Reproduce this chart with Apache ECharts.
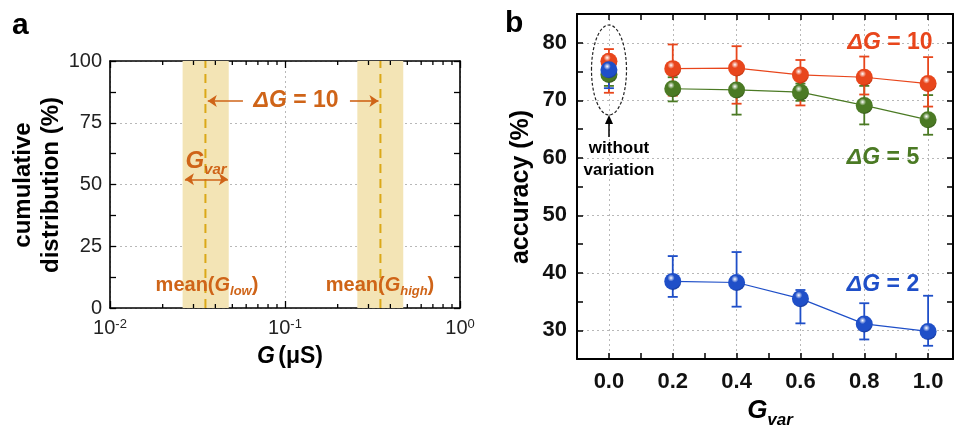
<!DOCTYPE html>
<html>
<head>
<meta charset="utf-8">
<script src="https://cdn.jsdelivr.net/npm/echarts@6/dist/echarts.min.js"></script>
<style>html,body{margin:0;padding:0;background:#fff}#main{width:956px;height:429px}</style>
</head>
<body>
<div id="main"></div>
<script>
// ---- panel a : conductance states ----
var bandLow = [0.026, 0.0477];
var bandHigh = [0.259, 0.474];
var meanLow = 0.0351;
var meanHigh = 0.351;
var logMinor = [0.02, 0.03, 0.04, 0.05, 0.06, 0.07, 0.08, 0.09, 0.2, 0.3, 0.4, 0.5, 0.6, 0.7, 0.8, 0.9];

// ---- panel b : accuracy vs Gvar ----
var gvar = [0.2, 0.4, 0.6, 0.8, 1.0];
var acc10 = [75.5, 75.6, 74.4, 74.0, 72.9];
var lo10 = [70.8, 69.4, 69.1, 71.0, 68.9];
var hi10 = [79.7, 79.4, 77.0, 77.6, 77.5];
var acc5 = [72.0, 71.8, 71.4, 69.1, 66.6];
var lo5 = [69.8, 67.5, 69.9, 65.8, 64.0];
var hi5 = [74.0, 75.5, 72.9, 72.5, 70.9];
var acc2 = [38.5, 38.3, 35.5, 31.1, 29.8];
var lo2 = [35.8, 34.1, 31.2, 28.4, 27.3];
var hi2 = [42.9, 43.6, 37.0, 34.7, 36.0];
// without variation (Gvar = 0), order: dG=10, dG=5, dG=2
var base0 = [76.8, 74.5, 75.3];
var base0Lo = [71.3, 72.5, 72.1];
var base0Hi = [78.9, 76.5, 76.3];

var FONT = '"Liberation Sans", Arial, sans-serif';
var cOrange = '#e8461c', cGreen = '#4b7a24', cBlue = '#1f4fc8';
var cNote = '#cf6418';

var chart = echarts.init(document.getElementById('main'), null, {renderer: 'canvas'});

function sphere(base, dark) {
    return {
        type: 'radial', x: 0.4, y: 0.3, r: 0.75,
        colorStops: [
            {offset: 0, color: '#ffffff'},
            {offset: 0.28, color: base},
            {offset: 0.8, color: base},
            {offset: 1, color: dark}
        ]
    };
}

function errItem(color) {
    return function (params, api) {
        var x = api.value(0);
        var a = api.coord([x, api.value(1)]);
        var b = api.coord([x, api.value(2)]);
        var w = 5;
        var st = {stroke: color, lineWidth: 1.8};
        return {
            type: 'group',
            children: [
                {type: 'line', shape: {x1: a[0], y1: a[1], x2: b[0], y2: b[1]}, style: st},
                {type: 'line', shape: {x1: a[0] - w, y1: a[1], x2: a[0] + w, y2: a[1]}, style: st},
                {type: 'line', shape: {x1: b[0] - w, y1: b[1], x2: b[0] + w, y2: b[1]}, style: st}
            ]
        };
    };
}

function errData(xs, lo, hi) {
    return xs.map(function (x, i) { return [x, lo[i], hi[i]]; });
}
function ptData(xs, ys) {
    return xs.map(function (x, i) { return [x, ys[i]]; });
}

var axLineA = {onZero: false, lineStyle: {color: '#000', width: 1.6}};
var axLineB = {onZero: false, lineStyle: {color: '#000', width: 2}};
var dotted = {color: '#b8b8b8', type: [2, 3], width: 1};
var dottedCycle = {color: ['rgba(0,0,0,0)', '#b8b8b8'], type: [2, 3], width: 1};

var option = {
    animation: false,
    textStyle: {fontFamily: FONT},
    grid: [
        {left: 110, top: 61, width: 350, height: 247},
        {left: 577, top: 14, width: 378, height: 345}
    ],
    xAxis: [
        {
            type: 'log', logBase: 10, gridIndex: 0, min: 0.01, max: 1, position: 'bottom',
            axisLine: axLineA,
            axisTick: {inside: true, length: 7, lineStyle: {color: '#000', width: 1.3}},
            axisLabel: {
                margin: 10, color: '#222',
                formatter: function (v) {
                    var e = Math.round(Math.log(v) / Math.LN10);
                    return '{b|10}{s|' + e + '}';
                },
                rich: {
                    b: {fontSize: 20, fontFamily: FONT, color: '#222'},
                    s: {fontSize: 13, fontFamily: FONT, color: '#222', verticalAlign: 'top', padding: [0, 0, 8, 0]}
                }
            },
            splitLine: {show: true, lineStyle: dotted}
        },
        {
            type: 'log', logBase: 10, gridIndex: 0, min: 0.01, max: 1, position: 'top',
            axisLine: axLineA,
            axisTick: {inside: true, length: 7, lineStyle: {color: '#000', width: 1.3}},
            axisLabel: {show: false},
            splitLine: {show: false}
        },
        {
            type: 'value', gridIndex: 1, min: -0.1, max: 1.078, interval: 0.1, position: 'bottom',
            axisLine: axLineB,
            axisTick: {inside: true, length: 6, lineStyle: {color: '#000', width: 1.5}},
            axisLabel: {
                margin: 12, fontSize: 22, fontWeight: 'bold', color: '#111',
                formatter: function (v) {
                    var k = Math.round(v * 10);
                    return (k >= 0 && k <= 10 && k % 2 === 0) ? (k / 10).toFixed(1) : '';
                }
            },
            splitLine: {show: true, lineStyle: dottedCycle}
        },
        {
            type: 'value', gridIndex: 1, min: -0.1, max: 1.078, interval: 0.1, position: 'top',
            axisLine: axLineB,
            axisTick: {inside: true, length: 6, lineStyle: {color: '#000', width: 1.5}},
            axisLabel: {show: false},
            splitLine: {show: false}
        }
    ],
    yAxis: [
        {
            type: 'value', gridIndex: 0, min: 0, max: 100, interval: 25, position: 'left',
            axisLine: axLineA,
            axisTick: {inside: true, length: 6, lineStyle: {color: '#000', width: 1.3}},
            minorTick: {show: true, splitNumber: 2, length: 6, lineStyle: {color: '#000', width: 1.3}},
            axisLabel: {margin: 8, fontSize: 20, color: '#222'},
            splitLine: {show: true, lineStyle: dotted}
        },
        {
            type: 'value', gridIndex: 0, min: 0, max: 100, interval: 25, position: 'right',
            axisLine: axLineA,
            axisTick: {inside: true, length: 6, lineStyle: {color: '#000', width: 1.3}},
            minorTick: {show: true, splitNumber: 2, length: 6, lineStyle: {color: '#000', width: 1.3}},
            axisLabel: {show: false},
            splitLine: {show: false}
        },
        {
            type: 'value', gridIndex: 1, min: 25, max: 85, interval: 5, position: 'left',
            axisLine: axLineB,
            axisTick: {inside: true, length: 6, lineStyle: {color: '#000', width: 1.5}},
            axisLabel: {
                margin: 10, fontSize: 22, fontWeight: 'bold', color: '#111',
                formatter: function (v) { return v % 10 === 0 ? String(v) : ''; }
            },
            splitLine: {show: true, lineStyle: dottedCycle}
        },
        {
            type: 'value', gridIndex: 1, min: 25, max: 85, interval: 5, position: 'right',
            axisLine: axLineB,
            axisTick: {inside: true, length: 6, lineStyle: {color: '#000', width: 1.5}},
            axisLabel: {show: false},
            splitLine: {show: false}
        }
    ],
    series: [
        {
            type: 'line', xAxisIndex: 0, yAxisIndex: 0, data: [], silent: true,
            markArea: {
                silent: true,
                itemStyle: {color: '#f3e4b5'},
                data: [
                    [{xAxis: bandLow[0]}, {xAxis: bandLow[1]}],
                    [{xAxis: bandHigh[0]}, {xAxis: bandHigh[1]}]
                ]
            }
        },
        // mean conductance dashed lines
        {type: 'line', xAxisIndex: 0, yAxisIndex: 0, silent: true, symbol: 'none', z: 3,
            data: [[meanLow, 0], [meanLow, 100]],
            lineStyle: {color: '#dba818', width: 2, type: [9, 6]}},
        {type: 'line', xAxisIndex: 0, yAxisIndex: 0, silent: true, symbol: 'none', z: 3,
            data: [[meanHigh, 0], [meanHigh, 100]],
            lineStyle: {color: '#dba818', width: 2, type: [9, 6]}},
        {
            type: 'line', xAxisIndex: 0, yAxisIndex: 0, data: [], silent: true, z: 4,
            markLine: {
                silent: true, symbol: ['arrow', 'arrow'], symbolSize: [9, 9], label: {show: false},
                lineStyle: {color: cNote, width: 1.6, type: 'solid'},
                data: [
                    [{coord: [0.0575, 83.8], symbol: 'none'}, {coord: [0.0362, 83.8]}],
                    [{coord: [0.235, 83.8], symbol: 'none'}, {coord: [0.342, 83.8]}],
                    [{coord: [0.0268, 52.1]}, {coord: [0.0472, 52.1]}]
                ]
            }
        },
        // log minor ticks, bottom and top
        {type: 'scatter', xAxisIndex: 0, yAxisIndex: 0, silent: true, clip: false, z: 5,
            data: logMinor.map(function (v) { return [v, 0]; }),
            symbol: 'rect', symbolSize: [1.3, 4], symbolOffset: [0, -2], itemStyle: {color: '#000', opacity: 1}},
        {type: 'scatter', xAxisIndex: 0, yAxisIndex: 0, silent: true, clip: false, z: 5,
            data: logMinor.map(function (v) { return [v, 100]; }),
            symbol: 'rect', symbolSize: [1.3, 4], symbolOffset: [0, 2], itemStyle: {color: '#000', opacity: 1}},
        // dG = 5
        {type: 'custom', xAxisIndex: 2, yAxisIndex: 2, encode: {x: 0, y: [1, 2]}, renderItem: errItem(cGreen),
            data: errData(gvar, lo5, hi5).concat([[0, base0Lo[1], base0Hi[1]]])},
        {type: 'line', xAxisIndex: 2, yAxisIndex: 2, data: ptData(gvar, acc5), symbol: 'circle', symbolSize: 17,
            lineStyle: {color: cGreen, width: 1.2}, itemStyle: {color: sphere(cGreen, '#2f4d15')}},
        {type: 'scatter', xAxisIndex: 2, yAxisIndex: 2, data: [[0, base0[1]]], symbolSize: 17,
            itemStyle: {color: sphere(cGreen, '#2f4d15'), opacity: 1}},
        // dG = 10
        {type: 'custom', xAxisIndex: 2, yAxisIndex: 2, encode: {x: 0, y: [1, 2]}, renderItem: errItem(cOrange),
            data: errData(gvar, lo10, hi10).concat([[0, base0Lo[0], base0Hi[0]]])},
        {type: 'line', xAxisIndex: 2, yAxisIndex: 2, data: ptData(gvar, acc10), symbol: 'circle', symbolSize: 17,
            lineStyle: {color: cOrange, width: 1.2}, itemStyle: {color: sphere(cOrange, '#a82a08')}},
        {type: 'scatter', xAxisIndex: 2, yAxisIndex: 2, data: [[0, base0[0]]], symbolSize: 17,
            itemStyle: {color: sphere(cOrange, '#a82a08'), opacity: 1}},
        // dG = 2
        {type: 'custom', xAxisIndex: 2, yAxisIndex: 2, encode: {x: 0, y: [1, 2]}, renderItem: errItem(cBlue),
            data: errData(gvar, lo2, hi2).concat([[0, base0Lo[2], base0Hi[2]]])},
        {type: 'line', xAxisIndex: 2, yAxisIndex: 2, data: ptData(gvar, acc2), symbol: 'circle', symbolSize: 17,
            lineStyle: {color: cBlue, width: 1.2}, itemStyle: {color: sphere(cBlue, '#12318a')}},
        {type: 'scatter', xAxisIndex: 2, yAxisIndex: 2, data: [[0, base0[2]]], symbolSize: 17,
            itemStyle: {color: sphere(cBlue, '#12318a'), opacity: 1}}
    ],
    graphic: [
        // panel letters
        {type: 'text', z: 100, x: 12, y: 26, style: {text: 'a', font: 'bold 30px ' + FONT, fill: '#000', textVerticalAlign: 'middle'}},
        {type: 'text', z: 100, x: 505, y: 24, style: {text: 'b', font: 'bold 30px ' + FONT, fill: '#000', textVerticalAlign: 'middle'}},
        // panel a axis titles
        {type: 'text', z: 100, x: 37, y: 185, rotation: Math.PI / 2,
            style: {text: 'cumulative\ndistribution (%)', font: 'bold 24px ' + FONT, lineHeight: 28,
                fill: '#000', textAlign: 'center', textVerticalAlign: 'middle'}},
        {type: 'text', z: 100, x: 290, y: 357,
            style: {text: '{i|G} {n|(μS)}', textAlign: 'center', textVerticalAlign: 'middle', fill: '#000',
                rich: {i: {font: 'italic bold 23px ' + FONT, fill: '#000'}, n: {font: 'bold 23px ' + FONT, fill: '#000'}}}},
        // panel a annotations
        {type: 'text', z: 100, x: 296, y: 101,
            style: {text: '{i|ΔG}{n| = 10}', textAlign: 'center', textVerticalAlign: 'middle', fill: cNote,
                rich: {i: {font: 'italic bold 23px ' + FONT, fill: cNote}, n: {font: 'bold 23px ' + FONT, fill: cNote}}}},
        {type: 'text', z: 100, x: 206, y: 161,
            style: {text: '{g|G}{s|var}', textAlign: 'center', textVerticalAlign: 'middle', fill: cNote,
                rich: {g: {font: 'italic bold 24px ' + FONT, fill: cNote, verticalAlign: 'bottom'},
                    s: {font: 'italic bold 15px ' + FONT, fill: cNote, verticalAlign: 'bottom', padding: [0, 0, -4, 0]}}}},
        {type: 'text', z: 100, x: 207, y: 285,
            style: {text: '{n|mean(}{g|G}{s|low}{n|)}', textAlign: 'center', textVerticalAlign: 'middle', fill: cNote,
                rich: {n: {font: 'bold 20px ' + FONT, fill: cNote, verticalAlign: 'bottom'},
                    g: {font: 'italic bold 20px ' + FONT, fill: cNote, verticalAlign: 'bottom'},
                    s: {font: 'italic bold 13px ' + FONT, fill: cNote, verticalAlign: 'bottom', padding: [0, 0, -3, 0]}}}},
        {type: 'text', z: 100, x: 380, y: 285,
            style: {text: '{n|mean(}{g|G}{s|high}{n|)}', textAlign: 'center', textVerticalAlign: 'middle', fill: cNote,
                rich: {n: {font: 'bold 20px ' + FONT, fill: cNote, verticalAlign: 'bottom'},
                    g: {font: 'italic bold 20px ' + FONT, fill: cNote, verticalAlign: 'bottom'},
                    s: {font: 'italic bold 13px ' + FONT, fill: cNote, verticalAlign: 'bottom', padding: [0, 0, -3, 0]}}}},
        // panel b axis titles
        {type: 'text', z: 100, x: 521, y: 187, rotation: Math.PI / 2,
            style: {text: 'accuracy (%)', font: 'bold 25px ' + FONT, fill: '#000', textAlign: 'center', textVerticalAlign: 'middle'}},
        {type: 'text', z: 100, x: 770, y: 411,
            style: {text: '{g|G}{s|var}', textAlign: 'center', textVerticalAlign: 'middle', fill: '#000',
                rich: {g: {font: 'italic bold 26px ' + FONT, fill: '#000', verticalAlign: 'bottom'},
                    s: {font: 'italic bold 17px ' + FONT, fill: '#000', verticalAlign: 'bottom', padding: [0, 0, -5, 0]}}}},
        // series labels
        {type: 'text', z: 100, x: 890, y: 43,
            style: {text: '{i|ΔG}{n| = 10}', textAlign: 'center', textVerticalAlign: 'middle', fill: cOrange,
                rich: {i: {font: 'italic bold 23px ' + FONT, fill: cOrange}, n: {font: 'bold 23px ' + FONT, fill: cOrange}}}},
        {type: 'text', z: 100, x: 883, y: 158,
            style: {text: '{i|ΔG}{n| = 5}', textAlign: 'center', textVerticalAlign: 'middle', fill: cGreen,
                rich: {i: {font: 'italic bold 23px ' + FONT, fill: cGreen}, n: {font: 'bold 23px ' + FONT, fill: cGreen}}}},
        {type: 'text', z: 100, x: 883, y: 285,
            style: {text: '{i|ΔG}{n| = 2}', textAlign: 'center', textVerticalAlign: 'middle', fill: cBlue,
                rich: {i: {font: 'italic bold 23px ' + FONT, fill: cBlue}, n: {font: 'bold 23px ' + FONT, fill: cBlue}}}},
        // without variation note
        {type: 'ellipse', z: 100, shape: {cx: 609, cy: 70, rx: 17.5, ry: 45},
            style: {fill: 'none', stroke: '#222', lineWidth: 1.2, lineDash: [3, 2]}},
        {type: 'line', z: 100, shape: {x1: 609, y1: 137, x2: 609, y2: 121}, style: {stroke: '#000', lineWidth: 1.5}},
        {type: 'polygon', z: 100, shape: {points: [[609, 115], [605, 124], [613, 124]]}, style: {fill: '#000'}},
        {type: 'text', z: 100, x: 619, y: 159,
            style: {text: 'without\nvariation', font: 'bold 17px ' + FONT, lineHeight: 22, fill: '#000',
                textAlign: 'center', textVerticalAlign: 'middle'}}
    ]
};

chart.setOption(option);
</script>
</body>
</html>
